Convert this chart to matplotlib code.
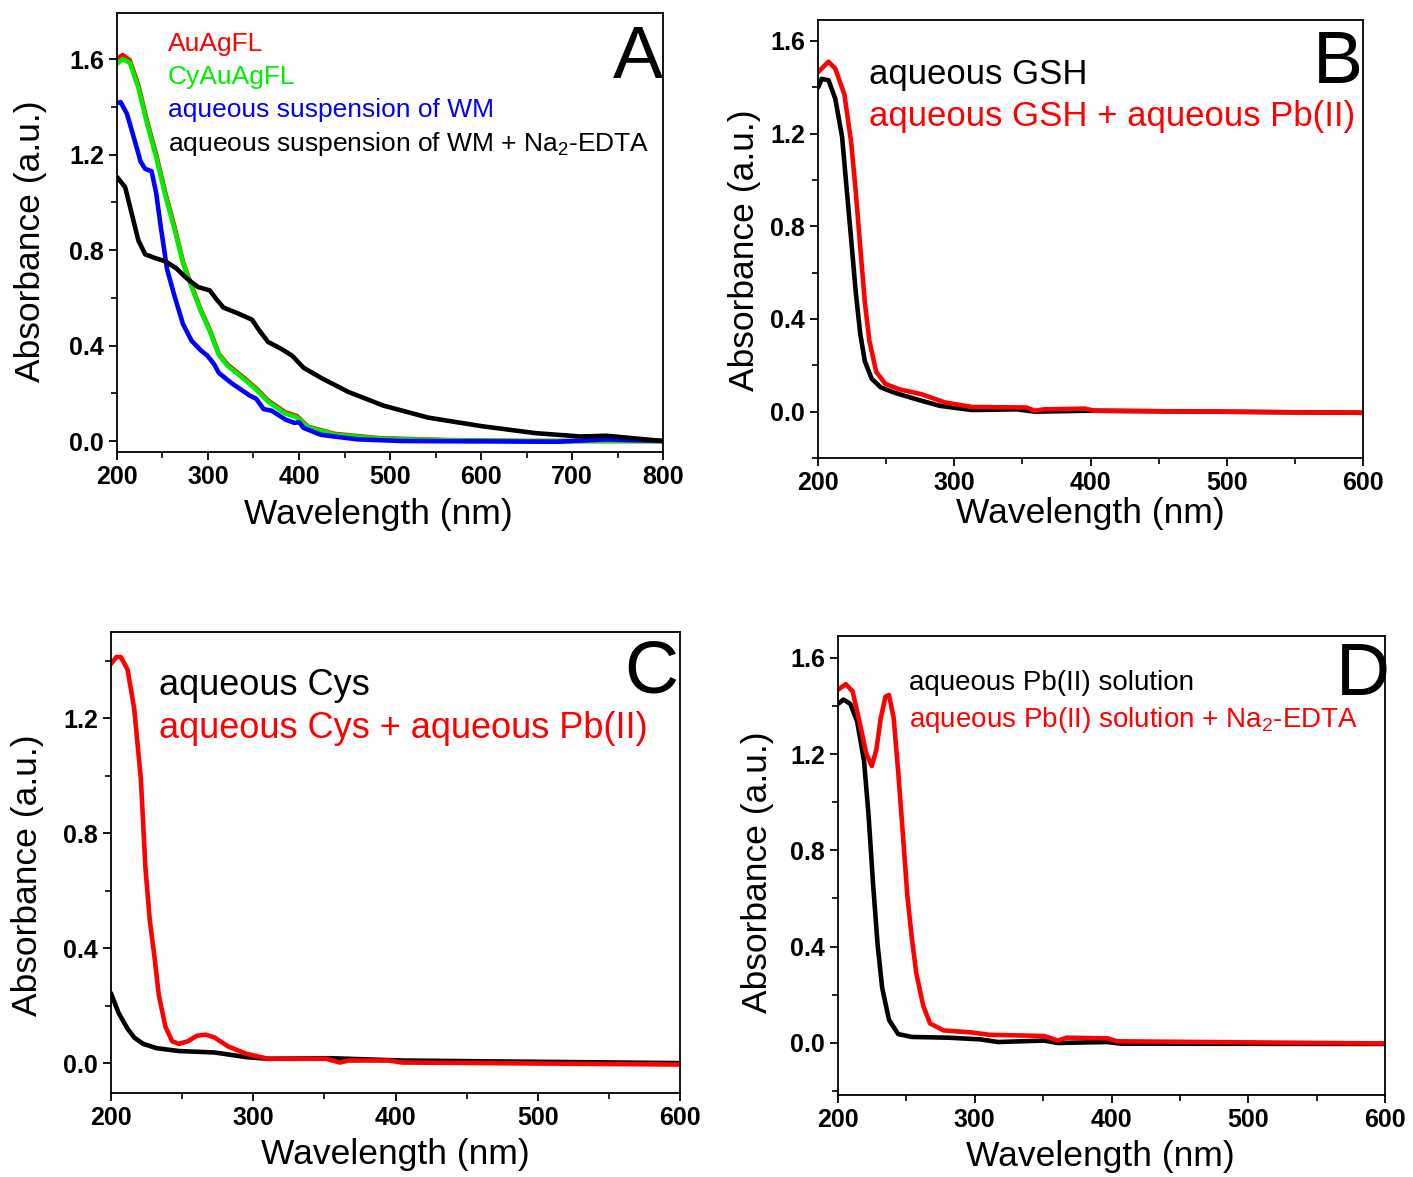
import matplotlib
matplotlib.use("Agg")
import matplotlib.pyplot as plt
from matplotlib.ticker import MultipleLocator
from matplotlib import font_manager

names = sorted({f.name for f in font_manager.fontManager.ttflist})
narrow = "Liberation Sans Narrow" if "Liberation Sans Narrow" in names else "Liberation Sans"

plt.rcParams["font.family"] = [narrow, "DejaVu Sans"]
plt.rcParams["mathtext.fontset"] = "custom"
plt.rcParams["mathtext.rm"] = narrow
plt.rcParams["mathtext.it"] = narrow
plt.rcParams["lines.solid_joinstyle"] = "round"
plt.rcParams["lines.solid_capstyle"] = "round"

# ---- panel A ----
a_wl_red = [200, 206, 214, 223.5, 233, 243, 253, 263, 272.5, 282, 292, 302, 312, 321.5, 341,
            353, 366, 385, 397.5, 410, 439, 488, 562, 650, 800]
a_red = [1.60, 1.617, 1.595, 1.49, 1.34, 1.20, 1.04, 0.90, 0.75, 0.65, 0.55, 0.465, 0.364, 0.32,
         0.26, 0.22, 0.17, 0.12, 0.105, 0.06, 0.03, 0.012, 0.004, 0.0, 0.0]
a_green = [1.58, 1.60, 1.585, 1.48, 1.33, 1.19, 1.03, 0.89, 0.745, 0.645, 0.545, 0.46, 0.36, 0.315,
           0.255, 0.215, 0.165, 0.115, 0.10, 0.058, 0.027, 0.01, 0.003, 0.0, 0.0]
a_wl_blue = [200, 204, 211, 218.6, 226, 231, 238, 243, 248, 255, 263, 272.5, 282, 292, 299.5,
             307, 312, 326, 346, 353, 361, 370, 385, 395, 400, 405, 424, 464, 513, 684, 738, 800]
a_blue = [1.415, 1.42, 1.37, 1.27, 1.17, 1.14, 1.13, 1.04, 0.90, 0.72, 0.61, 0.49, 0.42, 0.38,
          0.357, 0.32, 0.285, 0.242, 0.19, 0.177, 0.134, 0.127, 0.09, 0.076, 0.079, 0.055, 0.026,
          0.007, 0.0, -0.003, 0.007, 0.0]
a_wl_black = [200, 209, 216, 223.5, 231, 240.7, 253, 265, 277, 289, 302, 309, 317, 331.5, 348.5,
              356, 366, 380.5, 392.6, 405, 424.5, 454, 493, 542, 601, 660, 709, 738, 800]
a_black = [1.106, 1.063, 0.955, 0.84, 0.782, 0.768, 0.753, 0.724, 0.68, 0.645, 0.631, 0.595,
           0.559, 0.537, 0.508, 0.465, 0.415, 0.386, 0.357, 0.307, 0.264, 0.206, 0.148, 0.098,
           0.062, 0.033, 0.019, 0.022, 0.0]

# ---- panel B ----
b_wl_black = [200, 202.7, 207.7, 212.7, 217.7, 221, 224.4, 227.7, 231, 234.4, 239.4, 246, 256,
              273, 289.5, 313, 346, 359, 399.7, 600]
b_black = [1.398, 1.436, 1.43, 1.35, 1.185, 0.964, 0.74, 0.516, 0.336, 0.217, 0.142, 0.105,
           0.082, 0.052, 0.025, 0.007, 0.01, 0.0, 0.004, -0.005]
b_wl_red = [200, 207.7, 212.7, 219.4, 224.4, 227.7, 231, 234.4, 237.7, 242.7, 249.4, 259.4, 276,
            293, 313, 353, 359, 366, 396, 403, 600]
b_red = [1.465, 1.51, 1.48, 1.368, 1.159, 0.95, 0.71, 0.47, 0.306, 0.172, 0.12, 0.097, 0.075,
         0.04, 0.02, 0.018, 0.004, 0.01, 0.013, 0.004, -0.005]

# ---- panel C ----
c_wl_black = [200, 205.3, 211.6, 216.3, 222.6, 232, 247.7, 272.8, 294.8, 310.5, 354.5, 404.7, 600]
c_black = [0.243, 0.175, 0.12, 0.089, 0.067, 0.052, 0.042, 0.037, 0.021, 0.015, 0.017, 0.009, 0.0]
c_wl_red = [200, 203.8, 206.9, 211.6, 216.3, 221, 224.2, 227.3, 230.5, 233.6, 238.3, 243, 247.7,
            254, 260.3, 266.6, 272.8, 282.3, 294.8, 310.5, 351.3, 360.8, 367, 395.3, 404.7, 600]
c_red = [1.389, 1.413, 1.413, 1.37, 1.234, 0.988, 0.68, 0.495, 0.372, 0.237, 0.126, 0.076, 0.067,
         0.076, 0.095, 0.099, 0.089, 0.058, 0.033, 0.015, 0.015, 0.002, 0.009, 0.009, 0.002, -0.005]

# ---- panel D ----
d_wl_black = [200, 204, 209, 214, 219, 222.3, 225.7, 229, 232.3, 237.3, 244, 254, 280.7, 304, 317,
              350.7, 360.7, 397, 407, 600]
d_black = [1.408, 1.426, 1.408, 1.335, 1.173, 0.95, 0.656, 0.406, 0.229, 0.096, 0.037, 0.025,
           0.022, 0.015, 0.004, 0.01, 0.0, 0.004, -0.003, -0.004]
d_wl_red = [200, 205.7, 210.7, 215.7, 220.7, 224.7, 228, 231.3, 234.7, 237.3, 240.7, 244, 247.3,
            250.7, 254, 257.3, 262.3, 267.3, 277.3, 297.3, 310.7, 350.7, 360.7, 367.3, 397.3, 404, 600]
d_red = [1.467, 1.49, 1.46, 1.335, 1.202, 1.15, 1.217, 1.35, 1.438, 1.445, 1.35, 1.128, 0.878,
         0.612, 0.435, 0.288, 0.155, 0.081, 0.052, 0.044, 0.034, 0.029, 0.01, 0.022, 0.019, 0.007,
         -0.002]

W, H = 1413, 1177
fig = plt.figure(figsize=(W / 100, H / 100), dpi=100)


def make_ax(box, xlab_pos, ylab_pos):
    left, top, right, bottom = box
    ax = fig.add_axes([left / W, 1 - bottom / H, (right - left) / W, (bottom - top) / H])
    for s in ax.spines.values():
        s.set_linewidth(1.3)
    ax.tick_params(direction="out", length=6, width=1.3, labelsize=18, top=False, right=False)
    ax.tick_params(which="minor", direction="out", length=4, width=1.2)
    ax.set_xlabel("Wavelength (nm)", fontsize=25.5, va="center")
    ax.set_ylabel("Absorbance (a.u.)", fontsize=25.5, va="center")
    ax.xaxis.set_label_coords(*xlab_pos)
    ax.yaxis.set_label_coords(*ylab_pos)
    ax.yaxis.set_major_locator(MultipleLocator(0.4))
    ax.yaxis.set_minor_locator(MultipleLocator(0.2))
    ax.yaxis.set_major_formatter(plt.FuncFormatter(lambda v, p: f"{v:.1f}"))
    return ax


def finish(ax, xmax):
    ax.set_xlim(200, xmax)
    ax.xaxis.set_major_locator(MultipleLocator(100))
    ax.xaxis.set_minor_locator(MultipleLocator(50))
    for lab in ax.get_xticklabels() + ax.get_yticklabels():
        lab.set_fontweight("bold")


lw = 3.3
red = "#ff0000"

# A
ax = make_ax((117, 13, 663, 452), (0.478, -0.143), (-0.159, 0.48))
ax.plot(a_wl_red, a_red, color=red, lw=lw)
ax.plot(a_wl_red, a_green, color="#00ee00", lw=lw)
ax.plot(a_wl_blue, a_blue, color="#0000ff", lw=lw)
ax.plot(a_wl_black, a_black, color="black", lw=lw)
ax.set_ylim(-0.046, 1.793)
finish(ax, 800)
for i, (t, c) in enumerate([("AuAgFL", red), ("CyAuAgFL", "#00ee00"),
                            ("aqueous suspension of WM", "#0000ff"),
                            ("aqueous suspension of WM + Na$_2$-EDTA", "black")]):
    ax.text(0.093, 0.93 - i * 0.076, t, color=c, fontsize=19, transform=ax.transAxes, va="center")
ax.text(1.0, 0.975, "A", fontsize=54, transform=ax.transAxes, ha="right", va="top")

# B
ax = make_ax((818, 20, 1363, 458), (0.5, -0.126), (-0.134, 0.475))
ax.plot(b_wl_black, b_black, color="black", lw=lw)
ax.plot(b_wl_red, b_red, color=red, lw=lw)
ax.set_ylim(-0.2, 1.69)
finish(ax, 600)
ax.text(0.093, 0.875, "aqueous GSH", color="black", fontsize=25, transform=ax.transAxes, va="center")
ax.text(0.093, 0.78, "aqueous GSH + aqueous Pb(II)", color=red, fontsize=25,
        transform=ax.transAxes, va="center")
ax.text(1.0, 0.98, "B", fontsize=54, transform=ax.transAxes, ha="right", va="top")

# C
ax = make_ax((111, 632, 680, 1093), (0.5, -0.134), (-0.146, 0.473))
ax.plot(c_wl_black, c_black, color="black", lw=lw)
ax.plot(c_wl_red, c_red, color=red, lw=lw)
ax.set_ylim(-0.104, 1.5)
finish(ax, 600)
ax.text(0.085, 0.885, "aqueous Cys", color="black", fontsize=26, transform=ax.transAxes, va="center")
ax.text(0.085, 0.79, "aqueous Cys + aqueous Pb(II)", color=red, fontsize=26,
        transform=ax.transAxes, va="center")
ax.text(0.997, 0.985, "C", fontsize=54, transform=ax.transAxes, ha="right", va="top")

# D
ax = make_ax((838, 636, 1385, 1095), (0.479, -0.135), (-0.148, 0.486))
ax.plot(d_wl_black, d_black, color="black", lw=lw)
ax.plot(d_wl_red, d_red, color=red, lw=lw)
ax.set_ylim(-0.216, 1.69)
finish(ax, 600)
ax.text(0.13, 0.897, "aqueous Pb(II) solution", color="black", fontsize=20,
        transform=ax.transAxes, va="center")
ax.text(0.13, 0.818, "aqueous Pb(II) solution + Na$_2$-EDTA", color=red, fontsize=20,
        transform=ax.transAxes, va="center")
ax.text(1.01, 0.99, "D", fontsize=54, transform=ax.transAxes, ha="right", va="top")

fig.savefig("out.png", dpi=100)
